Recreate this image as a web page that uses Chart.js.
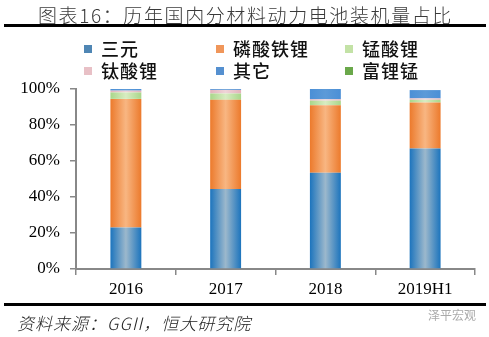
<!DOCTYPE html>
<html>
<head>
<meta charset="utf-8">
<script src="https://cdn.jsdelivr.net/npm/chart.js@4"></script>
<style>
  body { margin: 0; background: #fff; }
  #wrap { position: relative; width: 489px; height: 337px; overflow: hidden; }
  #chart { position: absolute; left: 0; top: 0; }
  .title { position: absolute; left: 38px; top: 1px; font: 300 19px "Noto Sans CJK SC"; letter-spacing: 1.6px; color: #3a3a3a; white-space: nowrap; }
  .rule { position: absolute; left: 4px; width: 482px; height: 3px; background: #000; }
  .legend { position: absolute; top: 37px; left: 0; width: 489px; height: 44px; }
  .item { position: absolute; font: 500 18px "Noto Sans CJK SC"; letter-spacing: 1px; color: #111; white-space: nowrap; line-height: 22px; }
  .item i { display: inline-block; width: 8px; height: 8px; margin-right: 9px; vertical-align: 3px; }
  .source { position: absolute; left: 17px; top: 310px; font: italic 300 17px "Noto Sans CJK SC"; letter-spacing: 1px; color: #222; white-space: nowrap; }
  .mark { position: absolute; left: 428px; top: 306px; font: 12px "Noto Sans CJK SC"; color: #aaa; }
</style>
</head>
<body>
<div id="wrap">
  <canvas id="chart" width="489" height="337"></canvas>
  <div class="title">图表16：历年国内分材料动力电池装机量占比</div>
  <div class="rule" style="top:24px"></div>
  <div class="legend" id="legend"></div>
  <div class="rule" style="top:303px"></div>
  <div class="source">资料来源：GGII，恒大研究院</div>
  <div class="mark">泽平宏观</div>
</div>
<script>
const years = ["2016", "2017", "2018", "2019H1"];
const ternary = [23, 44.5, 53.5, 67];        // 三元
const lfp = [71.5, 49.5, 37.5, 25.5];        // 磷酸铁锂
const lmo = [3.6, 3.5, 2.5, 1.5];            // 锰酸锂
const lto = [1.0, 2.0, 0.8, 0.8];            // 钛酸锂
const other = [0.9, 0.5, 5.7, 4.6];          // 其它
const richMn = [0, 0, 0, 0];                 // 富锂锰
const yTicks = [0, 20, 40, 60, 80, 100];

const barPct = 0.31;

// horizontal gradient across each bar: darker edges, lighter middle
function grad(edge, mid) {
  return (ctx) => {
    if (ctx.type !== "data") return edge;
    const c = ctx.chart;
    const xs = c.scales.x;
    if (!xs || !xs.width) return edge;
    const cx = xs.getPixelForValue(ctx.dataIndex);
    const w = xs.width / years.length * barPct;
    const g = c.ctx.createLinearGradient(cx - w / 2, 0, cx + w / 2, 0);
    g.addColorStop(0, edge);
    g.addColorStop(0.5, mid);
    g.addColorStop(1, edge);
    return g;
  };
}

const series = [
  { label: "三元", data: ternary, edge: "#1c74bd", mid: "#9cb8cc", key: "#4f86b4" },
  { label: "磷酸铁锂", data: lfp, edge: "#ec7a2c", mid: "#f8b682", key: "#f0965a" },
  { label: "锰酸锂", data: lmo, edge: "#a9d68a", mid: "#d8ecc2", key: "#c3e2a6" },
  { label: "钛酸锂", data: lto, edge: "#e2b2bb", mid: "#efd4d8", key: "#e8c0c6" },
  { label: "其它", data: other, edge: "#4b8fd6", mid: "#5c9ad8", key: "#5590d0" },
  { label: "富锂锰", data: richMn, edge: "#6aa84a", mid: "#7cb85c", key: "#6aa84a" }
];

// legend: 2 rows x 3 columns
const legendPos = [[84, 0], [216, 0], [345, 0], [84, 22], [216, 22], [345, 22]];
const legendEl = document.getElementById("legend");
series.forEach((s, i) => {
  const d = document.createElement("div");
  d.className = "item";
  d.style.left = legendPos[i][0] + "px";
  d.style.top = legendPos[i][1] + "px";
  d.innerHTML = '<i style="background:' + s.key + '"></i>' + s.label;
  legendEl.appendChild(d);
});

const axisGray = "#888888";

new Chart(document.getElementById("chart"), {
  type: "bar",
  data: {
    labels: years,
    datasets: series.map((s) => ({
      label: s.label,
      data: s.data,
      backgroundColor: grad(s.edge, s.mid),
      borderWidth: 0,
      categoryPercentage: 1,
      barPercentage: barPct
    }))
  },
  options: {
    responsive: false,
    animation: false,
    layout: { padding: { top: 89, bottom: 38, left: 0, right: 14 } },
    plugins: { legend: { display: false }, tooltip: { enabled: false } },
    scales: {
      x: {
        stacked: true,
        afterFit(s) { s.height = 30; },
        grid: { offset: true, drawOnChartArea: false, drawTicks: true, tickLength: 6, color: axisGray, lineWidth: 1.5 },
        border: { display: true, color: axisGray, width: 2 },
        ticks: { color: "#000", padding: 4, font: { family: "Liberation Serif", size: 17 } }
      },
      y: {
        stacked: true,
        min: 0,
        max: 100,
        afterFit(s) { s.width = 76; },
        afterBuildTicks(s) { s.ticks = yTicks.map((v) => ({ value: v })); },
        grid: { drawOnChartArea: false, drawTicks: true, tickLength: 6, color: axisGray, lineWidth: 1.5 },
        border: { display: true, color: axisGray, width: 2 },
        ticks: { color: "#000", padding: 10, font: { family: "Liberation Serif", size: 17 }, callback: (v) => v + "%" }
      }
    }
  }
});
</script>
</body>
</html>
